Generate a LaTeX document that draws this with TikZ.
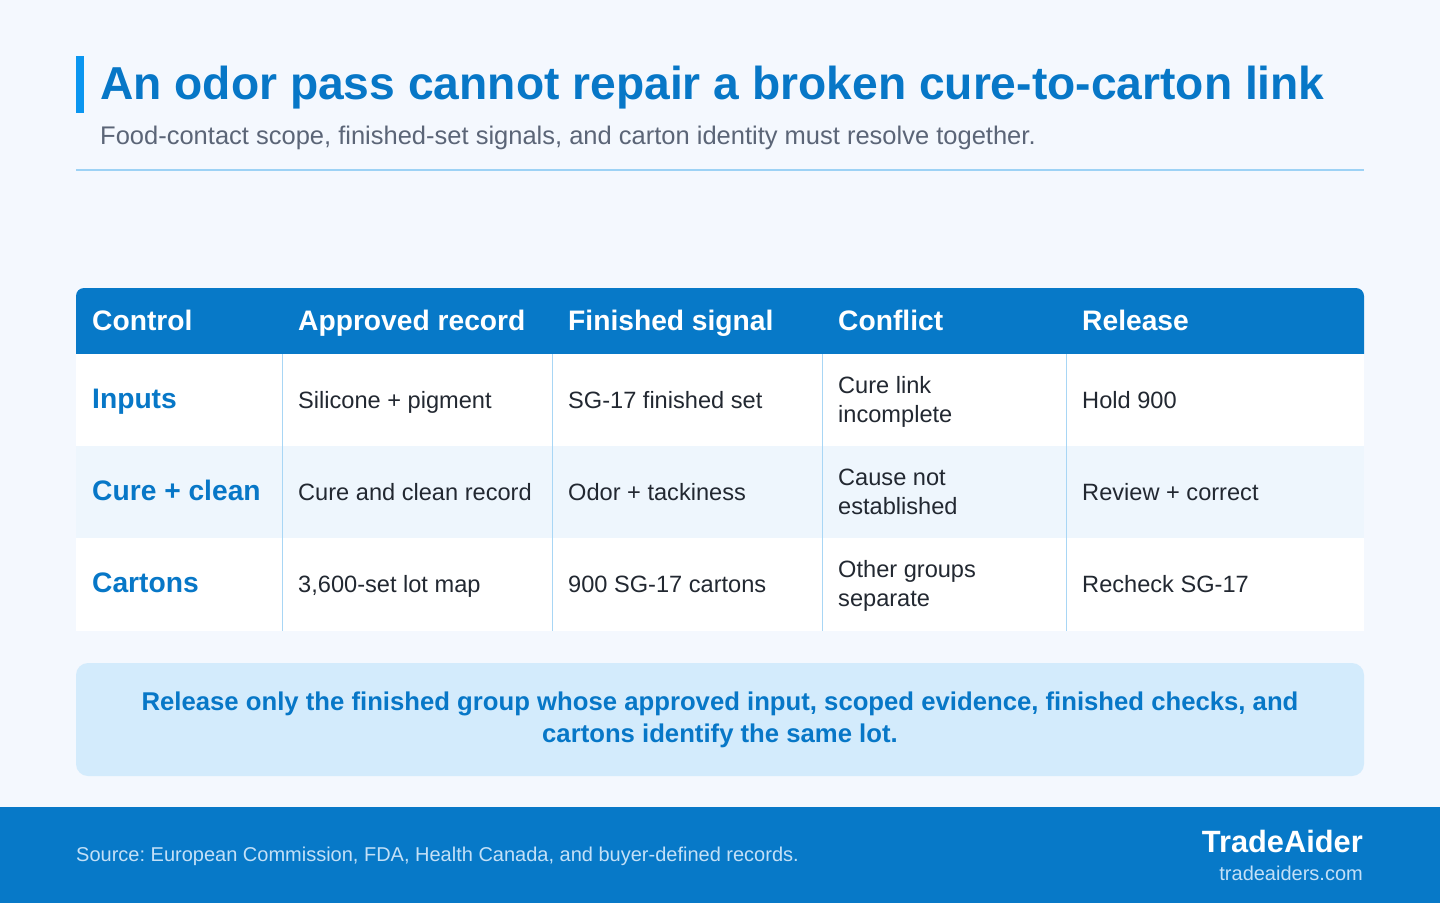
\documentclass[tikz,border=0pt]{standalone}
\usepackage{fontspec}
\setmainfont{Liberation Sans}
\frenchspacing
\usetikzlibrary{positioning}
\definecolor{pagebg}{HTML}{F4F8FE}
\definecolor{accent}{HTML}{0A96F0}
\definecolor{titleblue}{HTML}{0777C7}
\definecolor{subgray}{HTML}{5B6577}
\definecolor{rulecol}{HTML}{9DD2F5}
\definecolor{headblue}{HTML}{0779C8}
\definecolor{altrow}{HTML}{EEF6FD}
\definecolor{sepcol}{HTML}{A8D6F5}
\definecolor{bodytext}{HTML}{222831}
\definecolor{notefill}{HTML}{D3EBFC}
\definecolor{foottext}{HTML}{C3E0F7}
\tikzset{
  hcell/.style={anchor=base west, inner sep=0, text=white, font=\fontsize{28.2}{30}\selectfont\bfseries},
  rowlab/.style={anchor=base west, inner sep=0, text=titleblue, font=\fontsize{28.2}{30}\selectfont\bfseries},
  cell/.style={anchor=base west, inner sep=0, align=left, text=bodytext, font=\fontsize{23.6}{29.5}\selectfont},
}
\begin{document}
\begin{tikzpicture}[x=1pt, y=-1pt]
		%%%%% START %%%%%
		\useasboundingbox (0, 0) rectangle (1440, 903);
		\fill[pagebg] (0, 0) rectangle (1440, 903);
		
		% title block
		\fill[accent] (76, 56) rectangle (84, 113);
		\node[anchor=base west, inner sep=0, text=titleblue, font=\fontsize{46.2}{50}\selectfont\bfseries] (title) at (100, 99) {An odor pass cannot repair a broken cure-to-carton link};
		\node[anchor=base west, inner sep=0, text=subgray, font=\fontsize{25.5}{28}\selectfont] (subtitle) at (100, 144) {Food-contact scope, finished-set signals, and carton identity must resolve together.};
		\draw[rulecol, line width=1.5pt] (76, 170) -- (1364, 170);
		
		% table
		\fill[headblue] (76, 354) [rounded corners=8] -- (76, 288) -- (1364, 288) [sharp corners] -- (1364, 354) -- cycle;
		\fill[white] (76, 354) rectangle (1364, 446);
		\fill[altrow] (76, 446) rectangle (1364, 538);
		\fill[white] (76, 538) rectangle (1364, 631);
		\foreach \x in {282.5, 552.5, 822.5, 1066.5}
			\draw[sepcol, line width=1pt] (\x, 354) -- (\x, 631);
		
		\node[hcell] (hcontrol) at (92, 330) {Control};
		\node[hcell] (happroved) at (298, 330) {Approved record};
		\node[hcell] (hfinished) at (568, 330) {Finished signal};
		\node[hcell] (hconflict) at (838, 330) {Conflict};
		\node[hcell] (hrelease) at (1082, 330) {Release};
		
		\node[rowlab] (inputs) at (92, 408) {Inputs};
		\node[cell] (inapproved) at (298, 408) {Silicone + pigment};
		\node[cell] (infinished) at (568, 408) {SG-17 finished set};
		\node[cell] (inconflict) at (838, 422.5) {Cure link\\incomplete};
		\node[cell] (inrelease) at (1082, 408) {Hold 900};
		
		\node[rowlab] (cure) at (92, 500) {Cure + clean};
		\node[cell] (cuapproved) at (298, 500) {Cure and clean record};
		\node[cell] (cufinished) at (568, 500) {Odor + tackiness};
		\node[cell] (cuconflict) at (838, 514.5) {Cause not\\established};
		\node[cell] (curelease) at (1082, 500) {Review + correct};
		
		\node[rowlab] (cartons) at (92, 592) {Cartons};
		\node[cell] (caapproved) at (298, 592) {3,600-set lot map};
		\node[cell] (cafinished) at (568, 592) {900 SG-17 cartons};
		\node[cell] (caconflict) at (838, 606.5) {Other groups\\separate};
		\node[cell] (carelease) at (1082, 592) {Recheck SG-17};
		
		% note
		\fill[notefill, rounded corners=12] (76, 663) rectangle (1364, 776);
		\node[anchor=base, inner sep=0, align=center, text=titleblue, font=\fontsize{25.7}{32.5}\selectfont\bfseries] (note) at (720, 742.5) {Release only the finished group whose approved input, scoped evidence, finished checks, and\\cartons identify the same lot.};
		
		% footer
		\fill[headblue] (0, 807) rectangle (1440, 903);
		\node[anchor=base west, inner sep=0, text=foottext, font=\fontsize{20}{22}\selectfont] (source) at (76, 861) {Source: European Commission, FDA, Health Canada, and buyer-defined records.};
		\node[anchor=base east, inner sep=0, text=white, font=\fontsize{30.8}{32}\selectfont\bfseries] (brand) at (1363, 852) {TradeAider};
		\node[anchor=base east, inner sep=0, text=foottext, font=\fontsize{20}{22}\selectfont] (site) at (1363, 880) {tradeaiders.com};
		
		%%%%% END %%%%%
\end{tikzpicture}
\end{document}
